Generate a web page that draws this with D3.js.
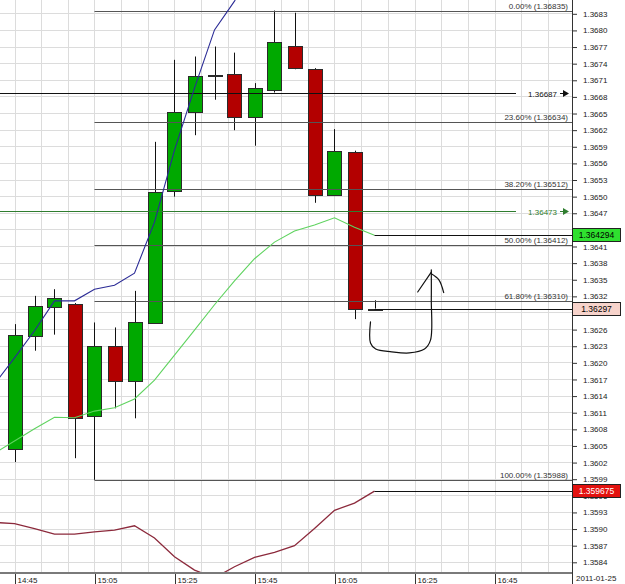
<!DOCTYPE html>
<html>
<head>
<meta charset="utf-8">
<script src="https://cdn.jsdelivr.net/npm/d3@7"></script>
<style>
  html, body { margin: 0; padding: 0; background: #fff; }
  svg { display: block; font-family: "Liberation Sans", Arial, sans-serif; }
</style>
</head>
<body>
<div id="chart"></div>
<script>
/***********************************************
 * 5 min candles, 2011-01-25
 ***********************************************/
const barTimes = ["14:45", "14:50", "14:55", "15:00", "15:05", "15:10", "15:15",
                  "15:20", "15:25", "15:30", "15:35", "15:40", "15:45", "15:50",
                  "15:55", "16:00", "16:05", "16:10", "16:15"];
const opens  = [1.36043, 1.36247, 1.36299, 1.36305, 1.36104, 1.36230, 1.36166,
                1.36272, 1.36508, 1.36651, 1.36716, 1.36720, 1.36643, 1.36693,
                1.36771, 1.36730, 1.36502, 1.36580, 1.36297];
const highs  = [1.36269, 1.36320, 1.36332, 1.36307, 1.36272, 1.36263, 1.36329,
                1.36598, 1.36746, 1.36752, 1.36770, 1.36759, 1.36704, 1.36835,
                1.36831, 1.36731, 1.36621, 1.36582, 1.36312];
const lows   = [1.36020, 1.36221, 1.36250, 1.36027, 1.35988, 1.36117, 1.36099,
                1.36270, 1.36499, 1.36610, 1.36674, 1.36619, 1.36591, 1.36687,
                1.36729, 1.36488, 1.36500, 1.36278, 1.36297];
const closes = [1.36249, 1.36302, 1.36316, 1.36099, 1.36230, 1.36166, 1.36272,
                1.36508, 1.36651, 1.36716, 1.36718, 1.36643, 1.36695, 1.36779,
                1.36731, 1.36502, 1.36582, 1.36297, 1.36297];

// ----- Indicator plots (one value per bar, first one is the bar before the screen)
const indicatorTimes = ["14:40", "14:45", "14:50", "14:55", "15:00", "15:05", "15:10",
                        "15:15", "15:20", "15:25", "15:30", "15:35", "15:40", "15:45",
                        "15:50", "15:55", "16:00", "16:05", "16:10", "16:15"];
const blueLine  = [1.36161, 1.36208, 1.36257, 1.36311, 1.36311, 1.36332, 1.36339,
                   1.36361, 1.36453, 1.36583, 1.36695, 1.36800, 1.36852, 1.36920];
const greenLine = [1.36036, 1.36058, 1.36080, 1.36101, 1.36100, 1.36112, 1.36118,
                   1.36134, 1.36168, 1.36213, 1.36258, 1.36304, 1.36347, 1.36387,
                   1.36417, 1.36437, 1.36448, 1.36461, 1.36444, 1.364294];
const redLine   = [1.35911, 1.35909, 1.35900, 1.35890, 1.35890, 1.35894, 1.35897,
                   1.35905, 1.35883, 1.35849, 1.35825, 1.35811, 1.35831, 1.35848,
                   1.35857, 1.35869, 1.35900, 1.35933, 1.35946, 1.359675];

// ----- Axes
const timeTicks = ["14:45", "15:05", "15:25", "15:45", "16:05", "16:25", "16:45"];
const priceTicks = [1.3584, 1.3587, 1.3590, 1.3593, 1.3596, 1.3599, 1.3602, 1.3605,
                    1.3608, 1.3611, 1.3614, 1.3617, 1.3620, 1.3623, 1.3626, 1.3629,
                    1.3632, 1.3635, 1.3638, 1.3641, 1.3644, 1.3647, 1.3650, 1.3653,
                    1.3656, 1.3659, 1.3662, 1.3665, 1.3668, 1.3671, 1.3674, 1.3677,
                    1.3680, 1.3683];
const dateLabel = "2011-01-25";

// ----- Fibonacci retracement (from the 15:05 low)
const fibNames  = ["0.00%", "23.60%", "38.20%", "50.00%", "61.80%", "100.00%"];
const fibPrices = [1.36835, 1.36634, 1.36512, 1.36412, 1.36310, 1.35988];
const fibStart = "15:05";

// ----- Horizontal lines with labels
const hLinePrices = [1.36687, 1.36473];
const hLineColors = ["#111", "#2f7d2f"];

// ----- Price markers on the axis
const markerPrices = [1.364294, 1.36297, 1.359675];
const markerLabels = ["1.364294", "1.36297", "1.359675"];
const markerFills  = ["#2fe02f", "#f7d3cb", "#e3120f"];
const markerText   = ["#000", "#000", "#fff"];
const markerFrom   = "16:15";

// ----- Freehand sketch (minutes after 14:45, price)
const sketchMain  = [[89.0, 1.36273], [89.0, 1.36235], [90.3, 1.36224], [94.3, 1.36219],
                     [98.7, 1.36217], [102.5, 1.36224], [104.0, 1.36240], [104.2, 1.36313],
                     [104.2, 1.36367]];
const sketchLeft  = [[100.8, 1.36327], [104.2, 1.36363]];
const sketchRight = [[104.2, 1.36360], [106.1, 1.36349], [107.3, 1.36326]];

/***********************************************
 * Layout
 ***********************************************/
const width = 625, height = 584;
const plotRight = 572, plotBottom = 572;

const parseTime = d3.timeParse("%Y-%m-%d %H:%M");
const t = s => parseTime(`${dateLabel} ${s}`);

const x = d3.scaleTime()
  .domain([t("14:45"), t("16:45")])
  .range([14.5, 14.5 + 120 * 4.0]);

const y = d3.scaleLinear()
  .domain([1.3584, 1.3683])
  .range([561.8, 13.3]);

const minutesAfter = m => d3.timeSecond.offset(t("14:45"), Math.round(m * 60));

const svg = d3.select("#chart")
  .append("svg")
  .attr("width", width)
  .attr("height", height);

svg.append("rect")
  .attr("width", width)
  .attr("height", height)
  .attr("fill", "#fff");

svg.append("clipPath")
  .attr("id", "plotClip")
  .append("rect")
  .attr("width", plotRight)
  .attr("height", plotBottom);

const plot = svg.append("g").attr("clip-path", "url(#plotClip)");

/***********************************************
 * Grid
 ***********************************************/
// vertical grid: three lines per 20 minute label
const gridTimes = d3.range(0, 21).map(k => minutesAfter(k * 20 / 3));
plot.selectAll("line.vgrid")
  .data(gridTimes)
  .join("line")
    .attr("class", "vgrid")
    .attr("x1", d => Math.round(x(d)) + 0.5)
    .attr("x2", d => Math.round(x(d)) + 0.5)
    .attr("y1", 0)
    .attr("y2", plotBottom)
    .attr("stroke", "#dcdcdc");

plot.selectAll("line.hgrid")
  .data(priceTicks)
  .join("line")
    .attr("class", "hgrid")
    .attr("x1", 0)
    .attr("x2", plotRight)
    .attr("y1", d => Math.round(y(d)) + 0.5)
    .attr("y2", d => Math.round(y(d)) + 0.5)
    .attr("stroke", "#dcdcdc");

/***********************************************
 * Candles
 ***********************************************/
const bars = barTimes.map((s, i) => ({
  time: t(s), open: opens[i], high: highs[i], low: lows[i], close: closes[i]
}));
const bodyW = 14;

plot.selectAll("line.wick")
  .data(bars)
  .join("line")
    .attr("class", "wick")
    .attr("x1", d => Math.round(x(d.time)) + 0.5)
    .attr("x2", d => Math.round(x(d.time)) + 0.5)
    .attr("y1", d => y(d.high))
    .attr("y2", d => y(d.low))
    .attr("stroke", "#111");

plot.selectAll("rect.body")
  .data(bars)
  .join("rect")
    .attr("class", "body")
    .attr("x", d => Math.round(x(d.time)) - bodyW / 2 + 0.5)
    .attr("y", d => Math.round(y(Math.max(d.open, d.close))) + 0.5)
    .attr("width", bodyW)
    .attr("height", d => Math.max(1, Math.round(Math.abs(y(d.open) - y(d.close)))))
    .attr("fill", d => d.close > d.open ? "#00a900" : (d.close < d.open ? "#b30000" : "#111"))
    .attr("stroke", "#2a2a2a");

/***********************************************
 * Fibonacci levels + horizontal lines
 ***********************************************/
plot.selectAll("line.fib")
  .data(fibPrices)
  .join("line")
    .attr("class", "fib")
    .attr("x1", x(t(fibStart)))
    .attr("x2", plotRight)
    .attr("y1", d => Math.round(y(d)) + 0.5)
    .attr("y2", d => Math.round(y(d)) + 0.5)
    .attr("stroke", "#555");

svg.selectAll("text.fib")
  .data(fibPrices)
  .join("text")
    .attr("class", "fib")
    .attr("x", plotRight - 4)
    .attr("y", d => Math.round(y(d)) - 2)
    .attr("text-anchor", "end")
    .attr("font-size", 8)
    .attr("fill", "#333")
    .text((d, i) => `${fibNames[i]} (${d.toFixed(5)})`);

hLinePrices.forEach((p, i) => {
  const yy = Math.round(y(p)) + 0.5;
  plot.append("line")
    .attr("x1", 0).attr("x2", plotRight - 56)
    .attr("y1", yy).attr("y2", yy)
    .attr("stroke", hLineColors[i]);
  svg.append("text")
    .attr("x", plotRight - 15)
    .attr("y", yy + 3)
    .attr("text-anchor", "end")
    .attr("font-size", 8)
    .attr("fill", hLineColors[i])
    .text(p.toFixed(5));
  svg.append("line")
    .attr("x1", plotRight - 12).attr("x2", plotRight - 8)
    .attr("y1", yy).attr("y2", yy)
    .attr("stroke", hLineColors[i]);
  svg.append("path")
    .attr("d", `M${plotRight - 9},${yy - 3.5}L${plotRight - 3},${yy}L${plotRight - 9},${yy + 3.5}Z`)
    .attr("fill", hLineColors[i]);
});

/***********************************************
 * Indicator lines
 ***********************************************/
const lineGen = d3.line()
  .x(d => x(d.time))
  .y(d => y(d.value));

function series(values) {
  return values.map((v, i) => ({ time: t(indicatorTimes[i]), value: v }));
}

plot.append("path")
  .datum(series(greenLine))
  .attr("d", lineGen)
  .attr("fill", "none")
  .attr("stroke", "#5fd35f")
  .attr("stroke-width", 1.1);

plot.append("path")
  .datum(series(blueLine))
  .attr("d", lineGen)
  .attr("fill", "none")
  .attr("stroke", "#2b2b96")
  .attr("stroke-width", 1.1);

plot.append("path")
  .datum(series(redLine))
  .attr("d", lineGen)
  .attr("fill", "none")
  .attr("stroke", "#8c2a3c")
  .attr("stroke-width", 1.3);

// lines from the last bar to the price axis
markerPrices.forEach(p => {
  plot.append("line")
    .attr("x1", x(t(markerFrom)))
    .attr("x2", plotRight)
    .attr("y1", Math.round(y(p)) + 0.5)
    .attr("y2", Math.round(y(p)) + 0.5)
    .attr("stroke", "#111");
});

/***********************************************
 * Freehand sketch
 ***********************************************/
const sketchGen = d3.line()
  .x(d => x(minutesAfter(d[0])))
  .y(d => y(d[1]))
  .curve(d3.curveCatmullRom);

[sketchMain, sketchLeft, sketchRight].forEach(pts => {
  plot.append("path")
    .datum(pts)
    .attr("d", sketchGen)
    .attr("fill", "none")
    .attr("stroke", "#111")
    .attr("stroke-width", 1.2)
    .attr("stroke-linecap", "round");
});

/***********************************************
 * Axes
 ***********************************************/
// price axis on the right
svg.append("line")
  .attr("x1", plotRight + 0.5).attr("x2", plotRight + 0.5)
  .attr("y1", 0).attr("y2", height)
  .attr("stroke", "#333");

const yAxis = d3.axisRight(y)
  .tickValues(priceTicks)
  .tickSize(5)
  .tickPadding(6)
  .tickFormat(d3.format(".4f"));

svg.append("g")
  .attr("transform", `translate(${plotRight},0.5)`)
  .call(yAxis)
  .attr("font-size", 8)
  .attr("font-family", null)
  .call(g => g.select(".domain").remove())
  .call(g => g.selectAll(".tick line").attr("stroke", "#333"))
  .call(g => g.selectAll(".tick text").attr("fill", "#222"));

// time axis
svg.append("rect")
  .attr("x", 0).attr("y", plotBottom)
  .attr("width", plotRight).attr("height", 2)
  .attr("fill", "#7a7a7a");

const xAxis = d3.axisBottom(x)
  .tickValues(timeTicks.map(t))
  .tickSize(12)
  .tickFormat(d3.timeFormat("%H:%M"));

svg.append("g")
  .attr("transform", `translate(0.5,${plotBottom + 2})`)
  .call(xAxis)
  .attr("font-size", 8)
  .attr("font-family", null)
  .call(g => g.select(".domain").remove())
  .call(g => g.selectAll(".tick line").attr("stroke", "#333"))
  .call(g => g.selectAll(".tick text")
    .attr("text-anchor", "start")
    .attr("x", 2)
    .attr("y", 3)
    .attr("fill", "#222"));

svg.append("text")
  .attr("x", plotRight + 4)
  .attr("y", height - 3)
  .attr("font-size", 8)
  .attr("fill", "#222")
  .text(dateLabel);

// price markers, drawn over the tick labels they cover
markerPrices.forEach((p, i) => {
  const yy = Math.round(y(p));
  svg.append("rect")
    .attr("x", plotRight + 0.5)
    .attr("y", yy - 6.5)
    .attr("width", 48)
    .attr("height", 13)
    .attr("fill", markerFills[i])
    .attr("stroke", "#222");
  svg.append("text")
    .attr("x", plotRight + 24.5)
    .attr("y", yy + 3)
    .attr("text-anchor", "middle")
    .attr("font-size", 8.5)
    .attr("fill", markerText[i])
    .text(markerLabels[i]);
});
</script>
</body>
</html>
